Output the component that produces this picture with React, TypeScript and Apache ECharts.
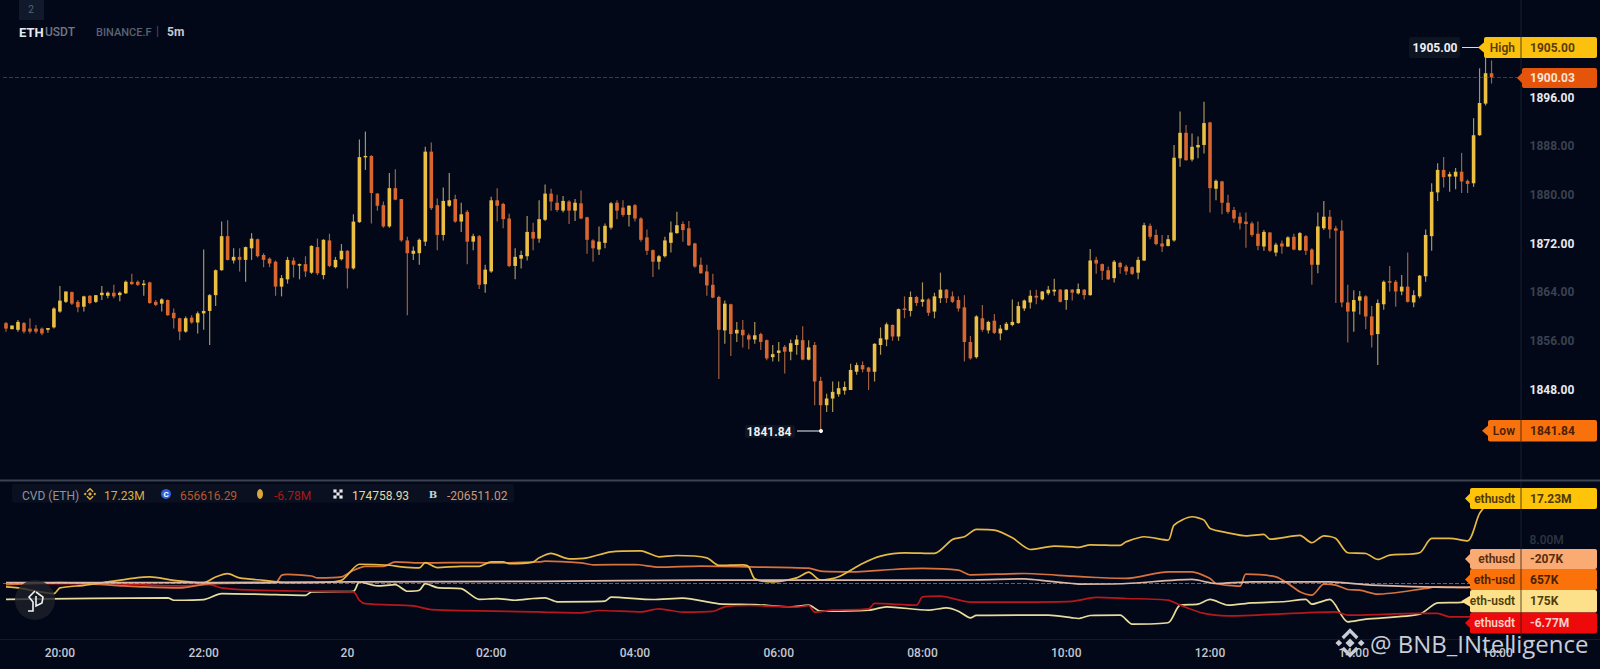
import React, { useEffect, useRef } from 'react';
import * as echarts from 'echarts';

// open, close, low, high of each 5m bar
const candles: number[][] = [
  [1859.6,1858.7,1858.2,1859.8],[1858.6,1859.2,1858.6,1859.2],[1858.5,1859.8,1858.2,1860.1],[1859.6,1858.2,1857.9,1859.8],
  [1858.7,1858.2,1857.9,1860.4],[1858.7,1858.2,1857.9,1859.3],[1858.7,1857.9,1857.6,1858.9],[1858.5,1858.8,1858.0,1858.8],
  [1858.9,1862.0,1858.7,1862.2],[1861.5,1863.3,1861.3,1865.7],[1863.1,1864.8,1862.9,1864.8],[1864.7,1862.8,1862.6,1864.8],
  [1863.1,1862.2,1861.4,1863.4],[1862.3,1864.0,1861.5,1864.1],[1864.1,1862.9,1862.7,1864.2],[1863.1,1864.2,1862.9,1864.2],
  [1864.2,1864.6,1863.4,1865.7],[1864.1,1864.6,1863.7,1864.8],[1864.6,1864.0,1863.7,1865.9],[1864.2,1864.6,1863.2,1864.8],
  [1864.5,1866.4,1864.4,1866.6],[1866.4,1866.0,1865.9,1867.7],[1866.4,1865.9,1865.7,1866.6],[1865.9,1866.1,1864.1,1866.7],
  [1866.3,1862.9,1862.8,1866.4],[1863.1,1862.6,1862.4,1863.4],[1862.8,1863.5,1861.5,1863.7],[1863.4,1860.9,1860.8,1863.5],
  [1861.3,1860.4,1858.7,1862.0],[1860.4,1858.2,1856.8,1860.5],[1858.2,1860.4,1858.0,1860.7],[1860.5,1859.7,1859.5,1860.9],
  [1859.7,1861.2,1857.9,1861.5],[1861.2,1861.6,1858.5,1871.7],[1861.6,1864.2,1856.0,1864.4],[1864.2,1868.3,1862.4,1868.4],
  [1868.3,1873.9,1868.2,1876.3],[1873.9,1870.0,1869.9,1876.5],[1869.9,1870.5,1869.4,1871.9],[1870.5,1870.0,1868.1,1871.9],
  [1870.0,1872.1,1866.4,1872.2],[1871.9,1873.5,1870.0,1874.4],[1873.4,1870.6,1870.4,1873.5],[1870.8,1870.0,1868.8,1871.1],
  [1870.2,1869.4,1868.8,1870.4],[1869.7,1865.6,1864.1,1869.9],[1865.6,1867.0,1864.0,1867.5],[1866.8,1870.0,1866.1,1870.5],
  [1869.9,1869.2,1867.1,1870.4],[1869.2,1869.3,1866.8,1869.4],[1869.3,1868.1,1867.2,1870.6],[1867.9,1872.3,1867.7,1872.4],
  [1872.1,1867.8,1867.5,1873.5],[1867.5,1873.3,1866.8,1873.4],[1873.2,1869.0,1868.8,1874.3],[1868.8,1870.0,1868.6,1870.5],
  [1870.1,1871.5,1869.9,1872.6],[1871.5,1868.6,1865.3,1871.6],[1868.6,1876.3,1868.4,1877.5],[1876.2,1886.9,1876.1,1889.8],
  [1886.9,1887.1,1884.8,1891.1],[1887.1,1881.0,1876.0,1887.2],[1880.9,1878.9,1878.1,1881.0],[1879.0,1875.5,1875.3,1879.6],
  [1875.5,1881.8,1875.3,1884.3],[1881.8,1879.9,1879.8,1884.9],
  [1880.0,1873.2,1873.0,1880.0],[1873.2,1871.1,1860.9,1873.8],[1871.0,1871.5,1870.0,1872.2],[1871.1,1873.3,1869.2,1873.5],
  [1873.0,1887.8,1872.3,1888.6],[1887.8,1878.5,1878.2,1889.3],[1879.0,1874.1,1871.6,1880.1],[1874.1,1879.7,1873.2,1881.9],
  [1878.9,1879.8,1878.7,1884.3],[1880.0,1876.3,1876.1,1880.7],[1876.3,1877.5,1874.6,1879.4],[1877.9,1873.0,1869.3,1878.2],
  [1873.0,1873.9,1871.6,1874.3],[1873.9,1865.9,1865.2,1874.1],[1866.0,1868.4,1864.6,1869.2],[1868.1,1879.8,1867.9,1880.4],
  [1879.8,1878.9,1876.3,1881.8],[1879.2,1876.7,1875.2,1879.4],[1876.8,1869.0,1868.8,1877.6],[1869.0,1870.5,1866.8,1871.9],
  [1870.2,1870.8,1868.6,1871.5],[1870.6,1874.6,1869.9,1877.2],[1874.6,1873.5,1871.6,1876.1],[1873.5,1876.7,1872.8,1879.8],
  [1876.6,1880.9,1876.4,1882.4],[1880.9,1879.6,1878.1,1881.7],[1879.4,1878.2,1877.9,1880.7],[1878.1,1879.7,1877.8,1880.5],
  [1879.6,1878.1,1875.9,1879.8],[1878.1,1879.4,1876.4,1880.0],[1879.3,1876.8,1876.7,1881.4],[1877.0,1873.3,1871.0,1877.1],
  [1873.2,1871.9,1869.7,1873.4],[1871.7,1873.0,1870.8,1875.5],[1872.8,1875.6,1871.9,1876.0],[1875.3,1879.3,1875.0,1879.5],
  [1879.4,1878.1,1876.7,1879.8],[1878.6,1877.4,1877.1,1879.8],[1877.4,1878.9,1875.5,1879.0],[1879.0,1876.8,1876.3,1879.2],
  [1876.8,1873.3,1873.0,1877.0],[1873.7,1871.5,1870.8,1875.0],[1871.6,1869.7,1867.2,1871.7],[1869.7,1870.6,1868.4,1870.8],
  [1870.6,1873.2,1870.4,1873.8],[1872.8,1874.5,1871.2,1876.3],[1874.4,1875.7,1874.3,1877.9],[1875.9,1874.9,1873.0,1876.3],
  [1875.2,1872.4,1872.3,1876.4],[1872.7,1868.9,1868.7,1872.8],[1869.2,1867.8,1867.7,1870.4],[1868.1,1865.8,1864.1,1869.2],
  [1865.9,1863.8,1863.7,1867.7],[1863.9,1858.5,1850.4,1864.1],[1858.4,1862.8,1856.2,1863.3],[1862.7,1857.8,1854.2,1862.8],
  [1857.9,1858.5,1856.5,1859.8],[1858.5,1857.6,1855.6,1860.1],[1857.6,1856.9,1855.3,1857.9],[1856.9,1857.6,1856.2,1859.8],
  [1857.8,1856.5,1855.2,1858.0],[1856.8,1853.8,1853.5,1856.9],[1854.0,1854.5,1853.3,1856.0],[1854.7,1855.1,1853.3,1856.5],
  [1855.7,1854.9,1851.3,1856.0],[1854.9,1856.3,1853.5,1856.9],[1856.0,1856.9,1854.4,1857.6],[1856.8,1853.6,1853.5,1859.1],
  [1853.6,1855.6,1853.5,1856.8],[1856.0,1850.0,1846.1,1856.5],[1850.1,1846.1,1841.84,1850.8],[1846.1,1847.2,1845.0,1848.0],
  [1847.2,1848.3,1845.0,1850.0],[1847.9,1848.9,1847.5,1850.0],[1848.5,1849.1,1847.8,1850.0],
  [1848.6,1851.9,1848.6,1852.9],[1851.6,1852.7,1851.1,1853.1],[1852.7,1852.0,1851.5,1853.3],[1852.3,1851.6,1848.6,1852.4],
  [1851.6,1856.2,1850.0,1856.3],[1856.0,1857.1,1854.4,1858.9],[1856.9,1859.4,1855.8,1859.7],[1859.3,1857.4,1856.7,1859.4],
  [1857.4,1861.9,1856.7,1862.0],[1862.0,1861.9,1860.4,1864.0],[1861.6,1863.9,1860.7,1864.8],[1863.9,1862.9,1862.4,1864.1],
  [1863.1,1863.5,1862.3,1866.3],[1863.5,1861.3,1860.8,1863.7],[1861.5,1864.0,1860.4,1864.6],[1863.7,1865.1,1862.9,1867.9],
  [1865.1,1863.7,1862.9,1865.2],[1864.0,1863.1,1862.9,1864.8],[1863.4,1862.0,1861.5,1864.0],[1862.2,1856.5,1853.3,1864.2],
  [1856.5,1853.8,1853.6,1857.5],[1854.0,1860.7,1853.8,1860.9],[1860.4,1858.5,1858.2,1862.6],[1858.4,1859.8,1857.9,1860.0],
  [1860.0,1858.0,1857.8,1861.1],[1857.9,1858.7,1856.8,1859.3],[1858.5,1859.5,1858.4,1859.8],[1859.3,1859.8,1859.1,1863.5],
  [1859.6,1862.4,1859.5,1863.1],[1862.0,1863.3,1861.6,1863.5],[1863.0,1864.1,1862.0,1865.0],[1864.1,1863.8,1862.7,1865.1],
  [1863.5,1864.8,1863.3,1864.9],[1864.5,1865.1,1864.2,1865.7],[1864.8,1865.1,1864.1,1866.9],[1865.1,1863.1,1863.0,1865.2],
  [1863.4,1865.1,1861.8,1865.2],[1865.1,1864.6,1863.3,1865.2],[1864.5,1865.2,1864.3,1866.1],[1865.1,1864.2,1863.5,1865.2],
  [1864.2,1869.9,1864.1,1871.8],[1870.0,1869.4,1867.7,1870.5],[1869.3,1868.2,1866.7,1869.4],[1868.3,1866.8,1866.7,1868.9],
  [1867.0,1869.7,1866.3,1870.0],[1869.5,1868.8,1867.7,1869.7],[1868.9,1868.1,1867.5,1869.2],[1868.8,1867.7,1867.5,1868.9],
  [1867.9,1870.0,1866.8,1870.5],[1869.9,1875.7,1869.8,1876.1],[1875.6,1873.8,1873.4,1876.0],[1874.1,1872.6,1872.4,1875.0],
  [1872.7,1872.2,1871.3,1874.1],[1872.3,1873.4,1872.2,1874.1],[1873.2,1886.8,1873.0,1888.9],[1886.7,1890.9,1885.3,1894.4],
  [1890.9,1886.4,1886.3,1892.2],[1886.5,1888.6,1886.2,1890.8],[1888.5,1888.9,1886.7,1890.3],[1888.9,1892.5,1887.5,1896.0],
  [1892.6,1881.8,1877.8,1892.7],[1881.7,1883.0,1879.8,1883.2],
  [1882.9,1879.4,1877.5,1883.0],[1879.4,1877.9,1877.6,1880.7],[1878.2,1876.8,1876.1,1878.7],[1877.1,1876.0,1875.0,1877.8],
  [1876.3,1875.9,1872.0,1877.8],[1876.0,1874.1,1873.8,1876.3],[1874.3,1872.3,1871.6,1876.3],[1872.2,1874.6,1871.5,1874.9],
  [1874.5,1871.5,1871.3,1874.6],[1871.2,1872.5,1870.6,1872.8],[1872.7,1872.2,1871.0,1873.2],[1872.2,1873.7,1872.1,1873.9],
  [1873.8,1871.7,1871.6,1874.3],[1871.6,1874.4,1871.5,1874.6],[1873.9,1871.5,1870.8,1874.1],[1871.7,1869.2,1865.9,1871.9],
  [1869.2,1875.5,1867.8,1877.8],[1875.2,1877.1,1874.9,1879.7],[1877.1,1875.0,1873.5,1878.2],[1875.2,1874.8,1862.9,1875.6],
  [1874.8,1863.0,1862.2,1876.5],[1863.0,1861.5,1856.4,1865.9],[1861.5,1863.4,1858.2,1865.0],[1863.3,1864.0,1861.0,1864.9],
  [1864.0,1860.7,1858.6,1864.2],[1860.7,1857.6,1855.6,1862.4],[1857.8,1862.9,1852.7,1863.5],[1862.7,1866.4,1861.8,1866.6],
  [1866.5,1866.3,1864.8,1869.0],[1866.4,1864.8,1862.3,1866.7],[1864.8,1865.6,1864.2,1867.5],[1865.6,1863.1,1863.0,1871.2],
  [1863.0,1864.2,1862.2,1865.0],[1864.0,1867.4,1863.7,1867.5],[1867.3,1874.1,1866.4,1875.0],[1873.9,1881.2,1871.5,1882.6],
  [1881.1,1884.8,1879.7,1885.9],[1884.8,1883.6,1881.9,1886.9],[1883.7,1884.1,1881.2,1884.5],[1883.7,1884.5,1881.6,1885.1],
  [1884.5,1882.9,1881.0,1887.6],[1883.0,1882.5,1881.0,1883.2],[1882.6,1890.5,1882.0,1893.3],[1890.5,1895.8,1890.4,1901.5],
  [1895.7,1900.7,1895.4,1905.0],[1900.7,1900.03,1899.0,1902.8],
];

// CVD lines, [bar number, value in millions]
const cvdEthusdtBinance: number[][] = [
  [0,-0.94],[2,-1.14],[8,-2.3],[9,-1.14],[13,-0.6],[17,0.1],[22,0.99],[24,1.13],[28,0.44],[33,-0.04],[35,1.13],[37,1.82],[39,0.92],[43,0.44],
  [47,-0.04],[51,-0.04],[56,0.44],[59,3.75],[64,3.54],[66,3.2],[69,3.0],[70,4.09],[72,3.06],[76,3.33],[79,3.33],[81,4.23],[83,4.23],[84,3.88],
  [88,4.19],[89,5.08],[91,5.98],[94,4.87],[97,5.08],[101,6.32],[106,6.53],[109,5.29],[112,5.56],[117,5.08],[119,3.5],[123,3.64],[124,3.22],
  [125,0.74],[128,0.12],[132,0.95],[134,2.12],[136,0.47],[139,1.16],[143,3.91],[146,5.43],[150,6.11],[155,5.98],[158,8.87],[160,9.42],
  [162,10.94],[165,10.8],[168,9.21],[171,6.8],[175,7.49],[178,7.35],[179,7.22],[181,7.77],[186,7.64],[187,8.39],[190,9.43],[194,8.74],
  [195,11.84],[198,13.56],[200,12.87],[201,11.15],[204,10.25],[207,9.63],[210,9.91],[211,8.94],[216,9.7],[218,8.19],[220,9.63],[222,9.08],
  [224,6.12],[227,5.98],[229,4.74],[231,5.64],[236,6.12],[238,9.08],[241,9.08],[244,8.6],[246,14.25],[248,17.23],
];
const cvdEthUsdCoinbase: number[][] = [
  [0,-0.46],[9,-0.04],[18,-0.6],[23,-0.94],[29,-1.14],[34,-0.25],[45,-0.04],[46,1.47],[47,1.68],[51,1.33],[52,0.92],[56,1.13],[58,2.51],[60,3.33],
  [63,3.33],[65,4.23],[69,4.02],[74,4.09],[79,4.09],[81,4.02],[89,4.23],[90,4.39],[96,4.05],[98,3.64],[105,3.7],[109,3.15],[116,3.36],[124,3.22],
  [134,2.95],[136,2.33],[142,2.19],[148,2.67],[153,2.88],[159,2.53],[161,1.57],[170,1.84],[178,1.29],[182,1.02],[187,0.82],[194,2.19],[198,2.19],
  [201,0.82],[202,-0.22],[206,-0.77],[207,1.71],[212,1.16],[214,-0.22],[216,-1.94],[218,-2.63],[220,-0.35],[222,-0.56],[224,-1.46],[226,-1.59],
  [229,-2.42],[237,-1.25],[239,-0.9],[244,-1.04],[248,0.66],
];
const cvdEthusdtBybit: number[][] = [
  [0,-0.25],[17,-0.25],[29,-0.73],[34,-0.46],[36,-1.14],[39,-1.49],[51,-1.83],[58,-1.97],[59,-3.69],[60,-4.38],[68,-4.86],[71,-5.62],[89,-6.1],
  [90,-6.14],[96,-6.28],[99,-5.8],[106,-6.08],[109,-5.46],[113,-6.14],[118,-6.0],[120,-5.04],[124,-4.77],[132,-5.11],[134,-4.77],[135,-6.14],
  [138,-5.73],[144,-5.46],[145,-4.35],[152,-4.7],[153,-2.98],[156,-2.84],[161,-4.08],[178,-3.9],[182,-3.11],[187,-3.32],[194,-3.66],[196,-4.69],
  [200,-6.41],[204,-6.9],[222,-6.07],[224,-6.76],[236,-6.41],[239,-6.41],[241,-7.1],[244,-7.1],[248,-6.77],
];
const cvdEthUsdtOkx: number[][] = [
  [0,-3.49],[27,-3.21],[28,-3.69],[33,-3.55],[36,-2.31],[45,-2.52],[50,-2.66],[51,-1.97],[58,-1.83],[59,0.1],[62,-0.73],[65,-0.46],[67,-1.83],
  [69,-1.63],[70,-0.25],[72,-1.08],[76,-1.28],[79,-3.49],[82,-3.35],[85,-3.69],[88,-3.32],[90,-3.18],[92,-4.0],[100,-3.87],[101,-3.05],[108,-3.53],
  [113,-3.25],[119,-4.42],[125,-4.56],[131,-5.04],[134,-4.7],[136,-5.94],[144,-5.73],[147,-5.04],[154,-5.73],[157,-5.25],[159,-5.94],[161,-7.31],
  [162,-6.83],[174,-6.76],[178,-7.31],[179,-7.45],[181,-6.83],[186,-6.76],[188,-8.62],[194,-8.34],[196,-4.69],[199,-4.49],[201,-3.52],[204,-4.69],
  [208,-4.21],[213,-4.0],[217,-3.52],[218,-4.49],[221,-3.52],[224,-8.14],[227,-7.59],[236,-6.55],[239,-4.21],[243,-4.14],[248,0.175],
];
const cvdEthUsdBitmex: number[][] = [
  [0,-0.04],[34,-0.04],[58,0.1],[89,0.23],[116,0.47],[139,0.47],[162,0.54],[170,0.74],[174,0.26],[178,-0.22],[179,-0.35],[187,-0.22],[198,0.61],
  [202,-0.22],[208,0.13],[221,0.13],[228,-0.56],[244,-1.04],[248,-0.207],
];

const priceTicks = [1896, 1888, 1880, 1872, 1864, 1856, 1848];
const brightTicks = [1896, 1872, 1848];
const cvdTicks = [8];
const timeLabels = ['20:00', '22:00', '20', '02:00', '04:00', '06:00', '08:00', '10:00', '12:00', '14:00', '16:00'];
const lastPrice = 1900.03;
const lastBitmex = -0.207;

const BG = '#020818';
const UP = '#ebbe44';
const DOWN = '#d8662e';
const UP_WICK = '#a8945a';
const DOWN_WICK = '#a0603f';
const FONT = 'Roboto, sans-serif';
const Z = 100;

// 253 five minute slots, the 10th bar is 20:00
const slots = Array.from({ length: 253 }, (_, i) => String(i));
const isTimeTick = (i: number) => i >= 9 && (i - 9) % 24 === 0;

const renderCandle = (_params: any, api: any) => {
  const i = api.value(0);
  const open = api.value(1);
  const close = api.value(2);
  const x = api.coord([i, open])[0];
  const yOpen = api.coord([i, open])[1];
  const yClose = api.coord([i, close])[1];
  const yLow = api.coord([i, api.value(3)])[1];
  const yHigh = api.coord([i, api.value(4)])[1];
  const up = close >= open;
  const top = Math.min(yOpen, yClose);
  return {
    type: 'group',
    children: [
      { type: 'line', shape: { x1: x, y1: yHigh, x2: x, y2: yLow }, style: { stroke: up ? UP_WICK : DOWN_WICK, lineWidth: 1.2 } },
      { type: 'rect', shape: { x: x - 1.8, y: top, width: 3.6, height: Math.max(1.5, Math.abs(yOpen - yClose)) }, style: { fill: up ? UP : DOWN } },
    ],
  };
};

const txt = (text: string, x: number, y: number, fill: string, size = 12, weight: any = 400, align = 'left', family = FONT) => ({
  type: 'text', x, y, z: Z + 2,
  style: { text, fill, font: `${weight} ${size}px ${family}`, align, verticalAlign: 'middle' },
});
const box = (x: number, y: number, width: number, height: number, fill: string, r = 2, z = Z) => ({
  type: 'rect', z, shape: { x, y, width, height, r }, style: { fill },
});
const tip = (x: number, y: number, xTip: number, h: number, fill: string) => ({
  type: 'polygon', z: Z, shape: { points: [[x, y - h], [xTip, y], [x, y + h]] }, style: { fill },
});
const smallDiamond = (x: number, y: number, s: number, fill: string, z: number) => ({
  type: 'rect', z, x, y, rotation: Math.PI / 4,
  shape: { x: -s / 2, y: -s / 2, width: s, height: s }, style: { fill },
});
// binance mark: two chevrons and three diamonds, u is half its width
const binanceMark = (cx: number, cy: number, u: number, color: string, z = Z + 2) => {
  const chevron = (dir: number) => ({
    type: 'polyline', z,
    shape: { points: [[cx - u * 0.52, cy + dir * u * 0.36], [cx, cy + dir * u * 0.88], [cx + u * 0.52, cy + dir * u * 0.36]] },
    style: { stroke: color, lineWidth: u * 0.24, fill: 'none' },
  });
  return [
    chevron(-1), chevron(1),
    smallDiamond(cx, cy, u * 0.46, color, z),
    smallDiamond(cx - u * 0.8, cy, u * 0.34, color, z),
    smallDiamond(cx + u * 0.8, cy, u * 0.34, color, z),
  ];
};
const okxMark = (cx: number, cy: number, fill: string) =>
  [[-3, -3], [3, -3], [0, 0], [-3, 3], [3, 3]].map(([dx, dy]) => box(cx + dx - 1.6, cy + dy - 1.6, 3.2, 3.2, fill, 0, Z + 2));

const pane = (label: string, value: string, y: number, h: number, fill: string, ink: string, left: number, xTip: number) => [
  box(left, y, 1597 - left, h, fill),
  tip(left + 1, y + h / 2, xTip, 6, fill),
  { type: 'line', z: Z + 1, shape: { x1: 1521, y1: y, x2: 1521, y2: y + h }, style: { stroke: 'rgba(40,25,5,0.75)', lineWidth: 1 } },
  txt(label, 1515, y + h / 2, ink, 12, 600, 'right'),
  txt(value, 1530, y + h / 2, ink, 12, 700),
];

const graphics: any[] = [
  // header
  box(19, 0, 25, 20, '#111a2c', 0),
  txt('2', 31, 9, '#596375', 10, 400, 'center'),
  txt('ETH', 19, 32, '#e6e9ef', 13, 700),
  txt('USDT', 45, 32, '#6f7786', 12, 500),
  txt('BINANCE.F', 96, 32, '#5a6272', 11, 500),
  txt('|', 156, 31, '#4a5262', 12),
  txt('5m', 167, 32, '#c4c8d0', 12, 700),
  // panes and price scale
  { type: 'line', z: 5, shape: { x1: 1521, y1: 0, x2: 1521, y2: 639 }, style: { stroke: '#161e2e', lineWidth: 1 } },
  { type: 'line', z: 5, shape: { x1: 0, y1: 480.5, x2: 1600, y2: 480.5 }, style: { stroke: '#3b4352', lineWidth: 2 } },
  { type: 'line', z: 5, shape: { x1: 0, y1: 639.5, x2: 1600, y2: 639.5 }, style: { stroke: '#121a29', lineWidth: 1 } },
  // high
  box(1409, 37, 51, 21, '#0d1422'),
  txt('1905.00', 1435, 48, '#eef0f4', 12, 700, 'center'),
  { type: 'line', z: Z, shape: { x1: 1462, y1: 47.5, x2: 1484, y2: 47.5 }, style: { stroke: '#d8dbe2', lineWidth: 1 } },
  ...pane('High', '1905.00', 37, 21, '#fcc10e', '#5a3c06', 1484, 1478),
  // last price
  box(1522, 68, 75, 20, '#e5540b'),
  tip(1523, 78, 1517, 6, '#e5540b'),
  txt('1900.03', 1530, 78, '#fbe4d2', 12, 700),
  // low
  box(745, 425, 50, 13, '#0d1422'),
  txt('1841.84', 769, 431.5, '#eef0f4', 12, 700, 'center'),
  { type: 'line', z: Z, shape: { x1: 797, y1: 431, x2: 821, y2: 431 }, style: { stroke: '#eef0f4', lineWidth: 1 } },
  { type: 'circle', z: Z, shape: { cx: 821, cy: 431, r: 2 }, style: { fill: '#ffffff' } },
  ...pane('Low', '1841.84', 420, 21.5, '#f9710c', '#4a1f03', 1488, 1482),
  // cvd scale
  ...pane('ethusdt', '17.23M', 488, 21, '#fdc409', '#4f3804', 1470, 1465),
  ...pane('ethusd', '-207K', 549, 20, '#f9ab73', '#5a2c0c', 1470, 1465),
  ...pane('eth-usd', '657K', 569, 21, '#fb720a', '#4a1f03', 1470, 1465),
  ...pane('eth-usdt', '175K', 590, 22.5, '#fde08a', '#4f3d0a', 1470, 1461),
  ...pane('ethusdt', '-6.77M', 612.5, 21, '#ee0a0a', '#f8d0c8', 1470, 1465),
  // cvd legend
  box(12, 484, 502, 18.5, '#0a101f', 2, 6),
  txt('CVD (ETH)', 22, 496, '#8d93a0', 12),
  ...binanceMark(90, 494, 6, '#e0b040'),
  txt('17.23M', 104, 496, '#dcae3e', 12),
  { type: 'circle', z: Z + 1, shape: { cx: 166, cy: 494, r: 5 }, style: { fill: '#2f62d8' } },
  txt('C', 166, 494, '#ffffff', 8, 700, 'center'),
  txt('656616.29', 180, 496, '#b8572a', 12),
  { type: 'ellipse', z: Z + 1, shape: { cx: 260, cy: 494, rx: 3, ry: 5 }, style: { fill: '#d9a83c' } },
  txt('-6.78M', 274, 496, '#a81a1a', 12),
  ...okxMark(338, 494, '#e8e8e8'),
  txt('174758.93', 352, 496, '#e3d9a4', 12),
  txt('B', 433, 494, '#bcd6e0', 10, 700, 'center', 'DejaVu Serif'),
  txt('-206511.02', 447, 496, '#cc9878', 12),
  // logo
  { type: 'circle', z: Z, shape: { cx: 35, cy: 600, r: 20 }, style: { fill: 'rgba(28,32,42,0.8)' } },
  { type: 'polyline', z: Z + 1, shape: { points: [[35, 591], [29, 597], [33, 602], [33, 611], [28, 611]] }, style: { stroke: '#f2f2f2', lineWidth: 1.6, fill: 'none' } },
  { type: 'polyline', z: Z + 1, shape: { points: [[36, 592], [43, 597], [42, 603], [36, 606], [36, 596]] }, style: { stroke: '#f2f2f2', lineWidth: 1.6, fill: 'none' } },
  // watermark
  ...binanceMark(1350, 643, 14, '#c9cdd8', Z + 6),
  { type: 'text', x: 1370, y: 643, z: Z + 6, style: { text: '@ BNB_INtelligence', fill: '#c9cdd8', font: '400 24px "Open Sans", sans-serif', verticalAlign: 'middle' } },
];

const cvdLine = (data: number[][], color: string, extra: any = {}) => ({
  type: 'line', xAxisIndex: 1, yAxisIndex: 1, data, showSymbol: false, smooth: 0.25,
  lineStyle: { color, width: 1.7 }, itemStyle: { color }, ...extra,
});

const App: React.FC = () => {
  const chartRef = useRef<HTMLDivElement>(null);

  useEffect(() => {
    if (!chartRef.current) return;
    const myChart = echarts.init(chartRef.current, null, { renderer: 'svg' });

    const option: any = {
      animation: false,
      backgroundColor: BG,
      grid: [
        { left: 3, width: 1515.5, top: 0, height: 480 },
        { left: 3, width: 1515.5, top: 481, height: 158 },
      ],
      xAxis: [
        { type: 'category', gridIndex: 0, data: slots, show: false },
        {
          type: 'category', gridIndex: 1, data: slots,
          axisLine: { show: false }, axisTick: { show: false },
          axisLabel: {
            interval: (i: number) => isTimeTick(i),
            formatter: (_v: string, i: number) => timeLabels[(i - 9) / 24],
            color: '#c3c7cf', fontFamily: FONT, fontSize: 12, fontWeight: 500, margin: 8,
          },
        },
      ],
      yAxis: [
        {
          type: 'value', gridIndex: 0, position: 'right', min: 1833.8, max: 1912.74, scale: true,
          axisLine: { show: false }, axisTick: { show: false }, splitLine: { show: false },
          axisLabel: {
            customValues: priceTicks, margin: 11,
            formatter: (v: number) => v.toFixed(2),
            color: (v: any) => (brightTicks.includes(Number(v)) ? '#e8eaf0' : '#3a4150'),
            fontFamily: FONT, fontSize: 12, fontWeight: 700,
            verticalAlign: 'bottom', lineHeight: 8,
          },
        },
        {
          type: 'value', gridIndex: 1, position: 'right', min: -11.69, max: 20.95,
          axisLine: { show: false }, axisTick: { show: false }, splitLine: { show: false },
          axisLabel: {
            customValues: cvdTicks, margin: 11,
            formatter: (v: number) => v.toFixed(2) + 'M',
            color: '#2f3644', fontFamily: FONT, fontSize: 12, fontWeight: 500,
            verticalAlign: 'bottom', lineHeight: 8,
          },
        },
      ],
      series: [
        {
          type: 'custom', xAxisIndex: 0, yAxisIndex: 0, renderItem: renderCandle,
          data: candles.map((c, i) => [i, ...c]),
          encode: { x: 0, y: [1, 2, 3, 4] },
          markLine: {
            silent: true, symbol: 'none', label: { show: false },
            lineStyle: { color: 'rgba(190,100,70,0.45)', type: 'dashed', width: 1 },
            data: [{ yAxis: lastPrice }],
          },
        },
        cvdLine(cvdEthUsdtOkx, '#e8dc9c'),
        cvdLine(cvdEthusdtBybit, '#b8181c'),
        cvdLine(cvdEthUsdCoinbase, '#d8723c'),
        cvdLine(cvdEthusdtBinance, '#e6b845'),
        cvdLine(cvdEthUsdBitmex, '#dcb8a8', {
          markLine: {
            silent: true, symbol: 'none', label: { show: false },
            lineStyle: { color: 'rgba(200,190,170,0.5)', type: 'dashed', width: 1 },
            data: [{ yAxis: lastBitmex }],
          },
        }),
      ],
      graphic: { elements: graphics },
    };

    myChart.setOption(option);

    return () => {
      myChart.dispose();
    };
  }, []);

  return <div ref={chartRef} style={{ position: 'absolute', left: 0, top: 0, width: 1600, height: 669 }} />;
};

export default App;
